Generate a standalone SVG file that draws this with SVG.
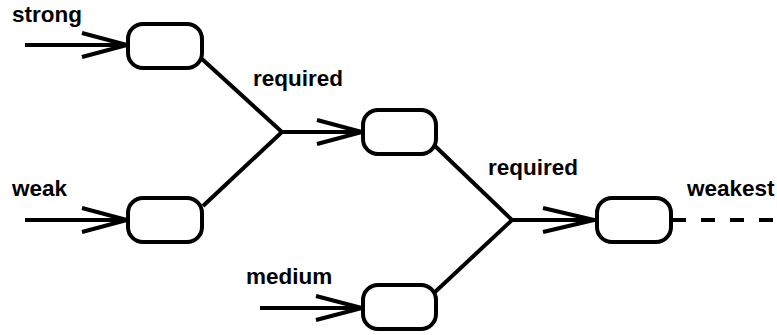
<svg xmlns="http://www.w3.org/2000/svg" width="777" height="335" viewBox="0 0 777 335">
<style>
.node{fill:#fff;stroke:#000;stroke-width:4}
.ln{fill:none;stroke:#000;stroke-width:4}
.dash{fill:none;stroke:#000;stroke-width:4;stroke-dasharray:14 15}
text{font-family:"Liberation Sans",Arial,sans-serif;font-weight:bold;font-size:22.5px;fill:#000}
</style>
<g id="connectors">
<path class="ln" d="M25,45H127M82,33L127,45L82,57"/>
<path class="ln" d="M25,220H127M82,208L127,220L82,232"/>
<path class="ln" d="M202,59L282,132L203,206"/>
<path class="ln" d="M282,132H362M317,120L362,132L317,144"/>
<path class="ln" d="M260,308H362M316,296L362,308L316,320"/>
<path class="ln" d="M435,146L512,220L435,292"/>
<path class="ln" d="M512,220H596M543,208L594,220L543,232"/>
<path class="dash" d="M672,220H777"/>
</g>
<g id="node-strong"><rect class="node" x="128" y="24" width="74" height="44" rx="15"/></g>
<g id="node-weak"><rect class="node" x="128" y="198" width="74" height="44" rx="15"/></g>
<g id="node-mid"><rect class="node" x="363" y="110" width="73" height="44" rx="15"/></g>
<g id="node-medium"><rect class="node" x="363" y="285" width="73" height="44" rx="15"/></g>
<g id="node-weakest"><rect class="node" x="597" y="198" width="74" height="44" rx="15"/></g>
<g id="labels">
<text x="12" y="22">strong</text>
<text x="12" y="196">weak</text>
<text x="253" y="86">required</text>
<text x="488" y="175">required</text>
<text x="246" y="284">medium</text>
<text x="687" y="196">weakest</text>
</g>
</svg>
